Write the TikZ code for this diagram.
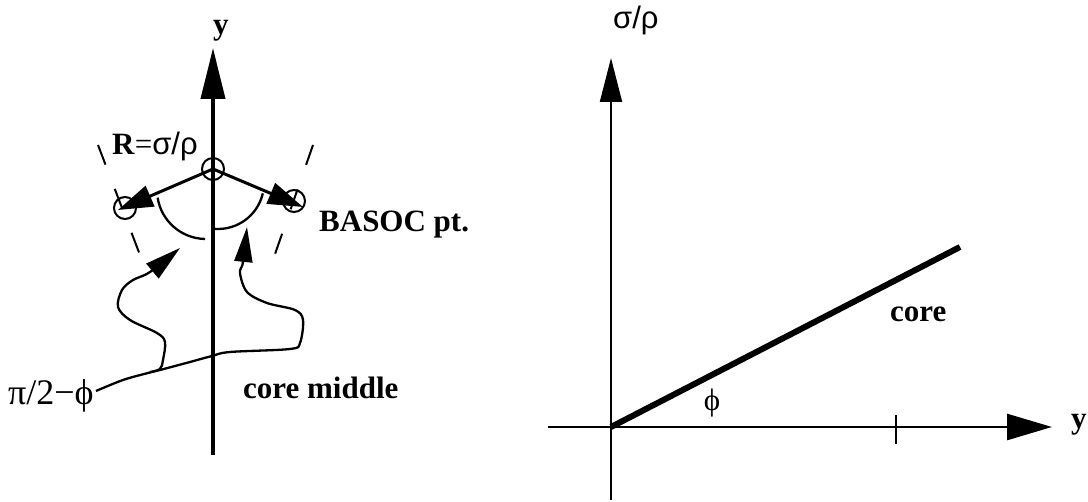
\documentclass[tikz,border=0pt]{standalone}
\usepackage{fontspec}
\setmainfont{Liberation Serif}
\newfontfamily\gsans{Liberation Sans}
\usetikzlibrary{arrows.meta}
\begin{document}
\begin{tikzpicture}[x=1pt,y=1pt,
  lbl/.style={inner sep=0pt,font=\fontsize{31}{36}\selectfont},
  blbl/.style={inner sep=0pt,font=\fontsize{31}{36}\selectfont\bfseries},
  pt/.style={circle,draw,line width=2pt,minimum size=22pt,inner sep=0pt},
  squig/.style={line width=2.3pt},
  dashln/.style={line width=2pt,dash pattern=on 21pt off 26pt},
  arcln/.style={line width=2.3pt}]
\useasboundingbox (0,0) rectangle (1088,502);
% ---------- left diagram ----------
\coordinate (Lbot) at (213,47);
\coordinate (Ltop) at (213,454);
\draw[line width=4pt,-{Triangle[length=51pt,width=24pt]}] (Lbot) -- (Ltop);
\node[blbl,anchor=base west] (ly) at (213,467) {y};
% dashed boundary lines
\coordinate (dl1) at (98,357);
\coordinate (dl2) at (140,247);
\coordinate (dr1) at (313,357);
\coordinate (dr2) at (274,245);
\draw[dashln] (dl1) -- (dl2);
\draw[dashln] (dr1) -- (dr2);
% points
\node[pt] (c0) at (213,333) {};
\node[pt] (c1) at (125,294) {};
\node[pt] (c2) at (294,301) {};
\coordinate (tipL) at (118,292);
\coordinate (tipR) at (303,295);
\draw[line width=3pt,-{Triangle[length=35pt,width=22pt]}] (c0.center) -- (tipL);
\draw[line width=3pt,-{Triangle[length=35pt,width=22pt]}] (c0.center) -- (tipR);
% angle arcs
\draw[arcln] (206,312) ++(189:49pt) arc[start angle=189,end angle=269,radius=49pt];
\draw[arcln] (218,319) ++(-13:46pt) arc[start angle=-13,end angle=-94,radius=46pt];
% labels
\node[anchor=base west,inner sep=0pt,font=\fontsize{31}{36}\selectfont] (R) at (112,347) {\textbf{R}=\gsans σ/ρ};
\node[blbl,anchor=base west] (basoc) at (319,270) {BASOC pt.};
\node[blbl,anchor=base west] (cm) at (243,103) {core middle};
\node[anchor=base west,inner sep=0pt,font=\fontsize{36}{40}\selectfont] (pl) at (8,97) {π/2−ϕ};
% squiggly arrows
\coordinate (s0) at (96,111);
\coordinate (sa) at (247,275);
\coordinate (sb) at (180,254);
\draw[squig,-{Triangle[length=35pt,width=18pt]}] plot[smooth,tension=0.55] coordinates {(s0) (123,122) (148,129) (160,132) (190,140) (212,146) (230,150) (290,153) (300,159) (303,182) (295,192) (267,199) (247,210) (240,229) (243,240) (sa)};
\draw[squig,-{Triangle[length=36pt,width=19pt]}] plot[smooth,tension=0.55] coordinates {(150,130) (160,133) (163,142) (165,160) (157,169) (130,182) (118,195) (122,212) (133,222) (150,230) (sb)};
% ---------- right diagram ----------
\coordinate (O) at (611,75);
\coordinate (Vbot) at (611,2);
\coordinate (Vtop) at (611,444);
\coordinate (Hl) at (548,75);
\coordinate (Hr) at (1052,75);
\coordinate (tk1) at (896,58);
\coordinate (tk2) at (896,87);
\coordinate (cend) at (960,255);
\draw[line width=2pt,-{Triangle[length=44pt,width=22pt]}] (Vbot) -- (Vtop);
\draw[line width=2.7pt,-{Triangle[length=45pt,width=26pt]}] (Hl) -- (Hr);
\draw[line width=2pt] (tk1) -- (tk2);
\draw[line width=6pt] (O) -- (cend);
\node[anchor=base west,inner sep=0pt,font=\fontsize{31}{36}\selectfont\gsans] (sr) at (613,473) {σ/ρ};
\node[lbl,anchor=base] (phi) at (712,91) {ϕ};
\node[blbl,anchor=base west] (core) at (890,180) {core};
\node[blbl,anchor=base west] (ry) at (1071,73) {y};
\end{tikzpicture}
\end{document}
